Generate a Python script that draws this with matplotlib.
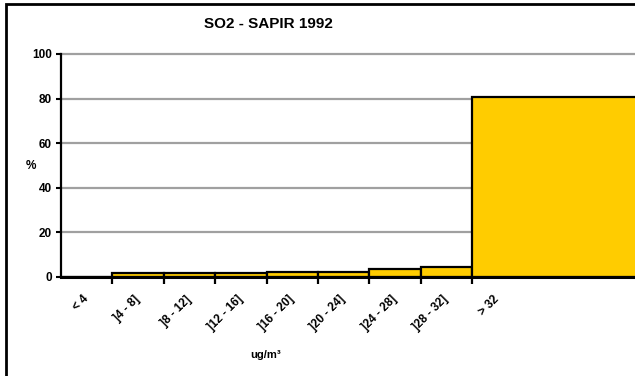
import matplotlib
matplotlib.use("Agg")
import matplotlib.pyplot as plt
import matplotlib.transforms as mtransforms
from matplotlib.patches import Rectangle
import numpy as np

categories = ["< 4", "]4 - 8]", "]8 - 12]", "]12 - 16]", "]16 - 20]",
              "]20 - 24]", "]24 - 28]", "]28 - 32]", "> 32"]
values = [0.0, 1.7, 1.7, 1.7, 2.1, 2.1, 3.3, 4.5, 80.7]
yticks = [0, 20, 40, 60, 80, 100]

plt.rcParams['font.family'] = ['Liberation Sans', 'DejaVu Sans']

W, H = 635, 376
fig = plt.figure(figsize=(W / 100, H / 100), dpi=100)

# Axes geometry (pixels)
left_px, right_px = 61, 700
top_px, bottom_px = 54, 276.7
cat_px = 51.4
ax = fig.add_axes([left_px / W, 1 - bottom_px / H,
                   (right_px - left_px) / W, (bottom_px - top_px) / H])
xmax = -0.5 + (right_px - left_px) / cat_px
ax.set_xlim(-0.5, xmax)
ax.set_ylim(0, 100)

n = len(values)
xs = np.arange(n) - 0.5
widths = [1.0] * (n - 1) + [xmax - xs[-1] + 1]
ax.bar(xs, values, width=widths, align='edge', color='#FFCC00',
       edgecolor='black', linewidth=1.6, zorder=3)

# grid
ax.set_yticks(yticks)
ax.yaxis.grid(True, color='#A0A0A0', linewidth=1.6, zorder=0)
for gl in ax.get_ygridlines():
    gl.set_clip_on(False)
ax.set_axisbelow(True)

for s in ['top', 'right']:
    ax.spines[s].set_visible(False)
ax.spines['left'].set_linewidth(1.6)
ax.spines['bottom'].set_linewidth(2.2)
ax.spines['left'].set_zorder(4)
ax.spines['bottom'].set_zorder(4)

ax.set_yticklabels([str(v) for v in yticks], fontsize=8.5, fontweight='bold')
ax.tick_params(axis='y', direction='out', length=3.5, width=1.5, pad=3)

ax.set_xticks(np.arange(n))
ax.set_xticklabels(categories, rotation=45, ha='right', va='top',
                   fontsize=8.5, fontweight='bold')
ax.tick_params(axis='x', which='major', length=0, pad=12)
ax.set_xticks(np.arange(n - 1) + 0.5, minor=True)
ax.tick_params(axis='x', which='minor', direction='out', length=5, width=1.6)
offset = mtransforms.ScaledTranslation(4 / 100, 0, fig.dpi_scale_trans)
for lbl in ax.get_xticklabels():
    lbl.set_transform(lbl.get_transform() + offset)

fig.text(268 / W, 1 - 24 / H, "SO2 - SAPIR 1992", ha='center', va='center',
         fontsize=11, fontweight='bold')
fig.text(31 / W, 1 - 166 / H, "%", ha='center', va='center',
         fontsize=8.5, fontweight='bold')
fig.text(266 / W, 1 - 355 / H, "ug/m³", ha='center', va='center',
         fontsize=8, fontweight='bold')

# outer chart border (extends past right/bottom edges)
fig.patches.append(Rectangle((5.5 / W, -0.2), 1.5, 1.2 - 3.5 / H,
                             transform=fig.transFigure, fill=False,
                             edgecolor='black', linewidth=2.0))

fig.savefig("out.png", dpi=100)
